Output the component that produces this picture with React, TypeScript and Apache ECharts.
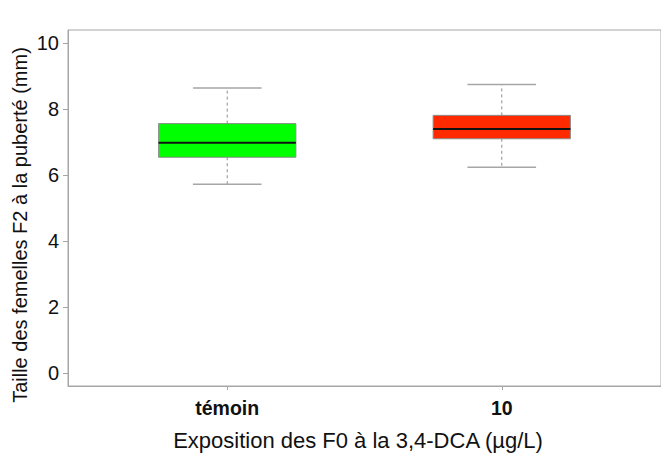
import React, { useEffect, useRef } from "react";
import * as echarts from "echarts";

const categories = ["témoin", "10"];
const categoryPositions = [1, 2];
const whiskerLow = [5.72, 6.24];
const q1 = [6.54, 7.1];
const median = [6.98, 7.4];
const q3 = [7.56, 7.81];
const whiskerHigh = [8.64, 8.75];
const boxColors = ["#00FF00", "#FF2A00"];
const yTicks = [0, 2, 4, 6, 8, 10];

const yTitle = "Taille des femelles F2 à la puberté (mm)";
const xTitle = "Exposition des F0 à la 3,4-DCA (µg/L)";

export default function App() {
  const ref = useRef<HTMLDivElement>(null);
  useEffect(() => {
    document.body.style.margin = "0";
    if (!ref.current) return;
    const chart = echarts.init(ref.current, null, { renderer: "svg" });
    const data = categoryPositions.map((p, i) => [
      p,
      whiskerLow[i],
      q1[i],
      median[i],
      q3[i],
      whiskerHigh[i],
    ]);
    const font = "Liberation Sans, Arial, sans-serif";
    chart.setOption({
      animation: false,
      backgroundColor: "#ffffff",
      grid: {
        left: 68,
        top: 30,
        width: 596,
        height: 356,
        show: true,
        borderColor: "#a6a6a6",
        borderWidth: 1,
        backgroundColor: "transparent",
      },
      xAxis: {
        type: "value",
        min: 0.42,
        max: 2.58,
        splitLine: { show: false },
        axisLine: { show: true, onZero: false, lineStyle: { color: "#a6a6a6", width: 1 } },
        axisTick: {
          show: true,
          length: 4,
          customValues: categoryPositions,
          lineStyle: { color: "#a6a6a6" },
        },
        axisLabel: {
          customValues: categoryPositions,
          formatter: (v: number) => categories[Math.round(v) - 1] ?? "",
          fontFamily: font,
          fontSize: 19.5,
          fontWeight: "bold",
          color: "#111111",
          margin: 12,
        },
      },
      yAxis: {
        type: "value",
        min: -0.4,
        max: 10.4,
        splitLine: { show: false },
        axisLine: { show: true, onZero: false, lineStyle: { color: "#a6a6a6", width: 1 } },
        axisTick: {
          show: true,
          length: 5,
          customValues: yTicks,
          lineStyle: { color: "#a6a6a6" },
        },
        axisLabel: {
          customValues: yTicks,
          fontFamily: font,
          fontSize: 20,
          color: "#111111",
          margin: 9,
        },
      },
      graphic: [
        {
          type: "text",
          x: 20,
          y: 225,
          rotation: Math.PI / 2,
          style: {
            text: yTitle,
            fontFamily: font,
            fontSize: 20,
            fill: "#111111",
            textAlign: "center",
            textVerticalAlign: "middle",
          },
        },
        {
          type: "text",
          x: 358,
          y: 440,
          style: {
            text: xTitle,
            fontFamily: font,
            fontSize: 22,
            fill: "#111111",
            textAlign: "center",
            textVerticalAlign: "middle",
          },
        },
      ],
      series: [
        {
          type: "custom",
          data,
          encode: { x: 0, y: [1, 2, 3, 4, 5] },
          renderItem: (params: any, api: any) => {
            const x = api.value(0);
            const pLo = api.coord([x, api.value(1)]);
            const pQ1 = api.coord([x, api.value(2)]);
            const pMed = api.coord([x, api.value(3)]);
            const pQ3 = api.coord([x, api.value(4)]);
            const pHi = api.coord([x, api.value(5)]);
            const boxW = api.size([0.5, 0])[0];
            const capW = boxW / 2;
            const cx = pMed[0];
            const color = boxColors[params.dataIndex];
            const whiskerStyle = { stroke: "#8c8c8c", lineWidth: 1, lineDash: [3, 3] };
            const capStyle = { stroke: "#a6a6a6", lineWidth: 1.5 };
            return {
              type: "group",
              children: [
                { type: "line", shape: { x1: cx, y1: pQ3[1], x2: cx, y2: pHi[1] }, style: whiskerStyle },
                { type: "line", shape: { x1: cx, y1: pQ1[1], x2: cx, y2: pLo[1] }, style: whiskerStyle },
                { type: "line", shape: { x1: cx - capW / 2, y1: pHi[1], x2: cx + capW / 2, y2: pHi[1] }, style: capStyle },
                { type: "line", shape: { x1: cx - capW / 2, y1: pLo[1], x2: cx + capW / 2, y2: pLo[1] }, style: capStyle },
                {
                  type: "rect",
                  shape: { x: cx - boxW / 2, y: pQ3[1], width: boxW, height: pQ1[1] - pQ3[1] },
                  style: { fill: color, stroke: "#8c8c8c", lineWidth: 1 },
                },
                {
                  type: "line",
                  shape: { x1: cx - boxW / 2, y1: pMed[1], x2: cx + boxW / 2, y2: pMed[1] },
                  style: { stroke: "#111111", lineWidth: 2 },
                },
              ],
            };
          },
        },
      ],
    });
    return () => chart.dispose();
  }, []);
  return <div ref={ref} style={{ width: 661, height: 453 }} />;
}
